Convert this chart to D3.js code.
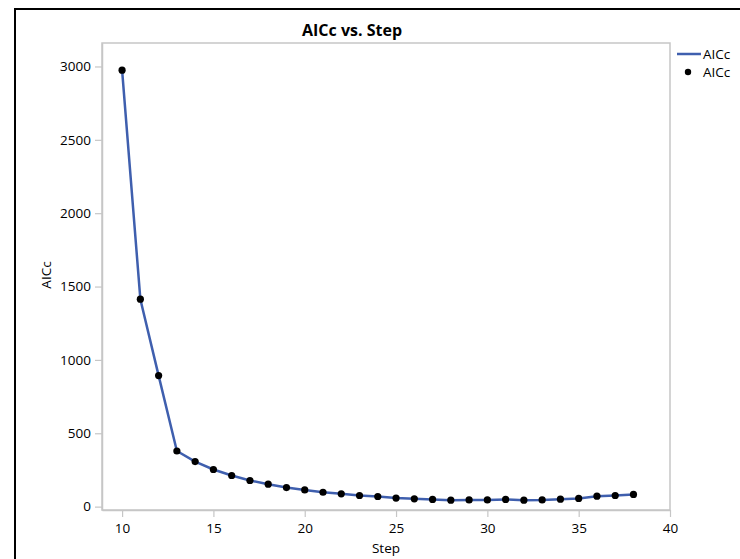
<!DOCTYPE html>
<html>
<head>
<meta charset="utf-8">
<script src="https://cdn.jsdelivr.net/npm/d3@7"></script>
<style>
  html, body { margin: 0; padding: 0; background: #fff; }
  svg { display: block; font-family: "Open Sans", "Noto Sans", sans-serif; }
</style>
</head>
<body>
<svg id="chart" width="740" height="559"></svg>
<script>
// Model selection steps and their AICc values
const steps = [10, 11, 12, 13, 14, 15, 16, 17, 18, 19, 20, 21, 22, 23, 24,
               25, 26, 27, 28, 29, 30, 31, 32, 33, 34, 35, 36, 37, 38];
const aicc = [2975, 1414, 893, 379, 307, 253, 212, 178, 153, 130, 114, 98, 87, 76, 69,
              58, 53, 49, 44, 46, 46, 49, 44, 46, 51, 56, 71, 76, 83];
const xTicks = [10, 15, 20, 25, 30, 35, 40];
const yTicks = [0, 500, 1000, 1500, 2000, 2500, 3000];
const titleText = "AICc vs. Step";
const xLabel = "Step";
const yLabel = "AICc";
const legendLabels = ["AICc", "AICc"];

const svg = d3.select("#chart");
const lineColor = "#3f5fae";
const frameColor = "#c6c6c6";

// Outer window border
svg.append("rect")
  .attr("x", 15).attr("y", 9)
  .attr("width", 760).attr("height", 600)
  .attr("fill", "none").attr("stroke", "#000").attr("stroke-width", 2);

const plot = { left: 102, right: 670, top: 43, bottom: 510 };

const x = d3.scaleLinear().domain([8.9, 40]).range([plot.left, plot.right]);
const y = d3.scaleLinear().domain([-23, 3160]).range([plot.bottom, plot.top]);

// Plot frame
svg.append("rect")
  .attr("x", plot.left).attr("y", plot.top)
  .attr("width", plot.right - plot.left).attr("height", plot.bottom - plot.top)
  .attr("fill", "none").attr("stroke", frameColor).attr("stroke-width", 1.5);

// Axes
const xAxis = svg.append("g")
  .attr("transform", `translate(0,${plot.bottom})`)
  .call(d3.axisBottom(x).tickValues(xTicks).tickFormat(d3.format("d"))
    .tickSize(7).tickSizeOuter(0).tickPadding(6));
const yAxis = svg.append("g")
  .attr("transform", `translate(${plot.left},0)`)
  .call(d3.axisLeft(y).tickValues(yTicks).tickFormat(d3.format("d"))
    .tickSize(7).tickSizeOuter(0).tickPadding(4));

[xAxis, yAxis].forEach(g => {
  g.select(".domain").attr("stroke", frameColor).attr("stroke-width", 1.5);
  g.selectAll(".tick line").attr("stroke", frameColor).attr("stroke-width", 1.2);
  g.selectAll(".tick text")
    .attr("fill", "#000")
    .style("font-size", "13.5px")
    .style("font-family", "'Open Sans', 'Noto Sans', sans-serif");
});

// Title and axis labels
svg.append("text")
  .attr("x", 352).attr("y", 36)
  .attr("text-anchor", "middle")
  .style("font-size", "16px").style("font-weight", "bold")
  .text(titleText);

svg.append("text")
  .attr("x", (plot.left + plot.right) / 2).attr("y", 553)
  .attr("text-anchor", "middle")
  .style("font-size", "13.5px")
  .text(xLabel);

svg.append("text")
  .attr("transform", "translate(51,275) rotate(-90)")
  .attr("text-anchor", "middle")
  .style("font-size", "13.5px")
  .text(yLabel);

// Data line and points
const data = steps.map((s, i) => ({ step: s, value: aicc[i] }));

svg.append("path")
  .datum(data)
  .attr("fill", "none")
  .attr("stroke", lineColor)
  .attr("stroke-width", 2.5)
  .attr("stroke-linejoin", "round")
  .attr("d", d3.line().x(d => x(d.step)).y(d => y(d.value)));

svg.append("g")
  .selectAll("circle")
  .data(data)
  .join("circle")
  .attr("cx", d => x(d.step))
  .attr("cy", d => y(d.value))
  .attr("r", 3.6)
  .attr("fill", "#000");

// Legend
const legend = svg.append("g");
legend.append("line")
  .attr("x1", 677).attr("x2", 701).attr("y1", 54).attr("y2", 54)
  .attr("stroke", lineColor).attr("stroke-width", 2.5);
legend.append("text")
  .attr("x", 703).attr("y", 59)
  .style("font-size", "13.5px")
  .text(legendLabels[0]);
legend.append("circle")
  .attr("cx", 688).attr("cy", 72).attr("r", 3.2).attr("fill", "#000");
legend.append("text")
  .attr("x", 703).attr("y", 77)
  .style("font-size", "13.5px")
  .text(legendLabels[1]);
</script>
</body>
</html>
